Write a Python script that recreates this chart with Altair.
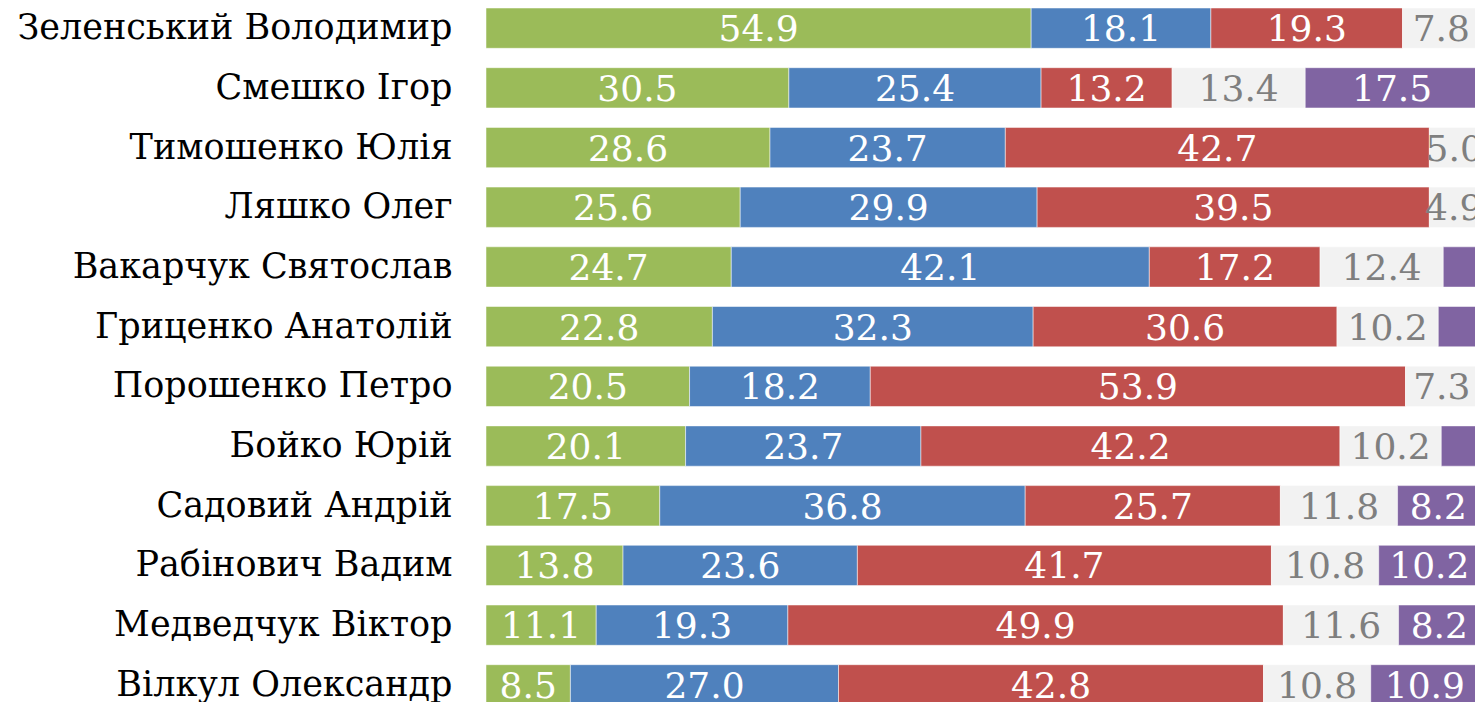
import altair as alt
import pandas as pd

names = ["Зеленський Володимир", "Смешко Ігор", "Тимошенко Юлія", "Ляшко Олег",
         "Вакарчук Святослав", "Гриценко Анатолій", "Порошенко Петро", "Бойко Юрій",
         "Садовий Андрій", "Рабінович Вадим", "Медведчук Віктор", "Вілкул Олександр"]
green = [54.9, 30.5, 28.6, 25.6, 24.7, 22.8, 20.5, 20.1, 17.5, 13.8, 11.1, 8.5]
blue = [18.1, 25.4, 23.7, 29.9, 42.1, 32.3, 18.2, 23.7, 36.8, 23.6, 19.3, 27.0]
red = [19.3, 13.2, 42.7, 39.5, 17.2, 30.6, 53.9, 42.2, 25.7, 41.7, 49.9, 42.8]
gray = [7.8, 13.4, 5.0, 4.9, 12.4, 10.2, 7.3, 10.2, 11.8, 10.8, 11.6, 10.8]
purple = [0.0, 17.5, 0.0, 0.1, 3.6, 4.1, 0.0, 3.8, 8.2, 10.2, 8.2, 10.9]

seg_names = ["s1", "s2", "s3", "s4", "s5"]
seg_colors = ["#9BBB59", "#4F81BD", "#C0504D", "#F2F2F2", "#8064A2"]
series = [green, blue, red, gray, purple]

rows = []
for i, n in enumerate(names):
    for s, (lab, vals) in enumerate(zip(seg_names, series)):
        rows.append({"name": n, "seg": s, "series": lab, "value": vals[i]})
df = pd.DataFrame(rows)

base = alt.Chart(df).transform_filter("datum.value > 0").transform_stack(
    stack="value", groupby=["name"], sort=[alt.SortField("seg", order="ascending")],
    as_=["x0", "x1"]
).transform_calculate(mid="(datum.x0 + datum.x1) / 2")

xs = alt.Scale(domain=[0, 100], range=[0, 993], nice=False, zero=True)
y = alt.Y("name:N", sort=names,
          scale=alt.Scale(range=[0, 697], paddingInner=0.325, paddingOuter=0),
          axis=alt.Axis(title=None, domain=False, ticks=False, grid=False,
                        labelFont="DejaVu Serif", labelFontSize=35, labelColor="black",
                        labelPadding=34, labelLimit=0))

bars = base.mark_bar(stroke="white", strokeWidth=1, strokeOpacity=0.5).encode(
    x=alt.X("x0:Q", scale=xs, axis=None),
    x2="x1:Q",
    y=y,
    color=alt.Color("series:N", scale=alt.Scale(domain=seg_names, range=seg_colors), legend=None),
)

text = base.transform_filter("datum.value >= 4.5").mark_text(
    font="DejaVu Serif", fontSize=36, baseline="middle", dy=2
).encode(
    x=alt.X("mid:Q", scale=xs, axis=None),
    y=y,
    text=alt.Text("value:Q", format=".1f"),
    color=alt.condition(alt.datum.seg == 3, alt.value("#7F7F7F"), alt.value("white")),
)

chart = alt.layer(bars, text).properties(
    width=989, height=694,
    autosize=alt.AutoSizeParams(type="none"),
    padding={"left": 478, "top": 0, "right": 0, "bottom": 0},
).configure_view(stroke=None)

chart.save("out.html", embed_options={"renderer": "svg", "actions": False})
